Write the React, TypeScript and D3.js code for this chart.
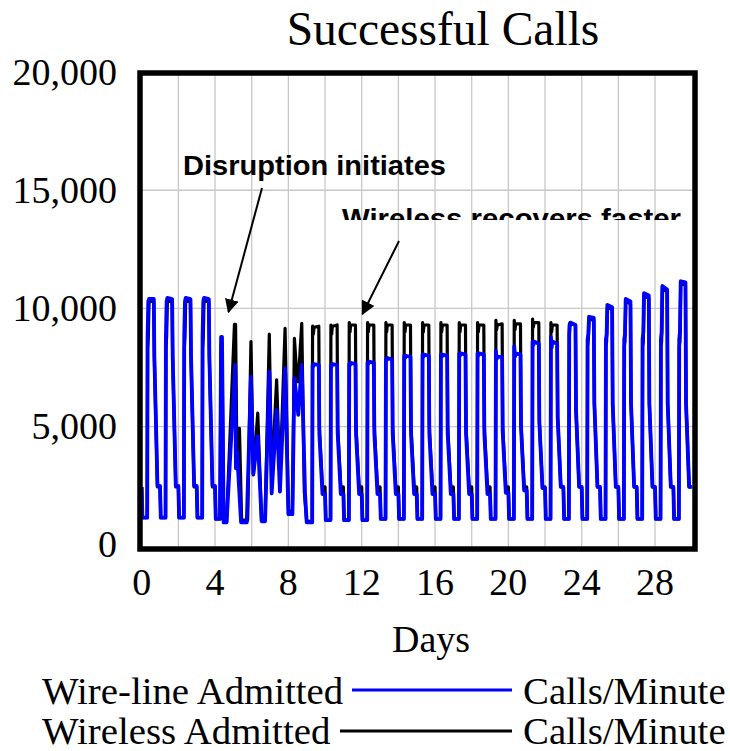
import React from 'react';
import * as d3 from 'd3';

const W = 730;
const H = 751;

const title = 'Successful Calls';
const xTicks = [0, 4, 8, 12, 16, 20, 24, 28];
const yTicks = [0, 5000, 10000, 15000, 20000];
const xGrid = [2, 4, 6, 8, 10, 12, 14, 16, 18, 20, 22, 24, 26, 28];
const yGrid = [5000, 10000, 15000];

// sample points inside one day (fraction of the day) used by the regular days
const keyTimes = [0, 0.04, 0.3, 0.32, 0.36, 0.4, 0.66, 0.69, 0.86];

// per day: [carry, low, low, shoulder, shoulder2, peak, peakEnd, mid, evening]
const wirelineDays: (number[] | null)[] = [
  [2450, 1150, 1150, 8800, 10300, 10400, 10400, 8000, 2500],
  [2500, 1150, 1150, 8800, 10300, 10450, 10400, 8000, 2500],
  [2500, 1150, 1150, 8800, 10300, 10450, 10400, 8000, 2500],
  [2500, 1150, 1150, 8800, 10300, 10450, 10400, 8000, 2500],
  null, null, null, null, null,
  [950, 950, 950, 7600, 7550, 7650, 7600, 4700, 2150],
  [2150, 1050, 1050, 7600, 7550, 7650, 7600, 4700, 2150],
  [2150, 1050, 1050, 7650, 7600, 7700, 7650, 4700, 2150],
  [2150, 1050, 1050, 7700, 7650, 7750, 7700, 4700, 2150],
  [2150, 1100, 1100, 7850, 7800, 7900, 7850, 4700, 2150],
  [2150, 1100, 1100, 8000, 7900, 8000, 7950, 4700, 2150],
  [2150, 1100, 1100, 8050, 7950, 8050, 8000, 4700, 2150],
  [2150, 1100, 1100, 8050, 7950, 8050, 8000, 4700, 2150],
  [2150, 1100, 1100, 8100, 8000, 8100, 8050, 4700, 2150],
  [2150, 1100, 1100, 8100, 8000, 8100, 8050, 4700, 2150],
  [2150, 1100, 1100, 8200, 7850, 7950, 7950, 4800, 2200],
  [2200, 1100, 1100, 8400, 7950, 8100, 8050, 5000, 2300],
  [2300, 1100, 1100, 8600, 8450, 8600, 8500, 5200, 2400],
  [2400, 1100, 1100, 8800, 8350, 8600, 8500, 5400, 2450],
  [2450, 1100, 1100, 8900, 9300, 9400, 9300, 5700, 2450],
  [2450, 1100, 1100, 8700, 8900, 9650, 9600, 6000, 2450],
  [2450, 1100, 1100, 8700, 8900, 10150, 10050, 6000, 2450],
  [2450, 1100, 1100, 8700, 8900, 10400, 10300, 6000, 2450],
  [2450, 1100, 1100, 8700, 9000, 10650, 10550, 6000, 2450],
  [2450, 1100, 1100, 8700, 9000, 10950, 10800, 6000, 2450],
  [2450, 1100, 1100, 8700, 9000, 11150, 11100, 6000, 2450],
];

const wirelessDays: (number[] | null)[] = [
  [2450, 1150, 1150, 8300, 8800, 10300, 10300, 7900, 2450],
  [2450, 1150, 1150, 8300, 8800, 10350, 10300, 7900, 2450],
  [2450, 1150, 1150, 8300, 8800, 10350, 10300, 7900, 2450],
  [2450, 1150, 1150, 8300, 8800, 10350, 10300, 7900, 2450],
  null, null, null, null, null,
  [1000, 1000, 1000, 9250, 8900, 9200, 9250, 5000, 2450],
  [2450, 1050, 1050, 9300, 8900, 9250, 9300, 5000, 2450],
  [2450, 1050, 1050, 9400, 9000, 9300, 9300, 5000, 2450],
  [2450, 1050, 1050, 9400, 9000, 9300, 9300, 5000, 2450],
  [2450, 1100, 1100, 9400, 9000, 9300, 9300, 5000, 2450],
  [2450, 1100, 1100, 9400, 9000, 9300, 9300, 5000, 2450],
  [2450, 1100, 1100, 9400, 9000, 9300, 9300, 5000, 2450],
  [2450, 1100, 1100, 9400, 9000, 9300, 9300, 5000, 2450],
  [2450, 1100, 1100, 9400, 9000, 9300, 9300, 5000, 2450],
  [2450, 1100, 1100, 9400, 9000, 9300, 9300, 5000, 2450],
  [2450, 1100, 1100, 9500, 9100, 9300, 9350, 5000, 2450],
  [2450, 1100, 1100, 9500, 9100, 9350, 9350, 5100, 2450],
  [2450, 1100, 1100, 9550, 9200, 9400, 9400, 5200, 2450],
  [2450, 1100, 1100, 9400, 9000, 9300, 9300, 5400, 2450],
  [2450, 1100, 1100, 9300, 9400, 9350, 9300, 5700, 2450],
  [2450, 1100, 1100, 8400, 8700, 9550, 9500, 6000, 2450],
  [2450, 1100, 1100, 8400, 8600, 10050, 9950, 6000, 2450],
  [2450, 1100, 1100, 8400, 8600, 10300, 10200, 6000, 2450],
  [2450, 1100, 1100, 8400, 8600, 10550, 10450, 6000, 2450],
  [2450, 1100, 1100, 8400, 8600, 10850, 10700, 6000, 2450],
  [2450, 1100, 1100, 8400, 8600, 11050, 11000, 6000, 2450],
];

// days 4 - 9, read point by point: [day, calls/minute]
const wirelineDisruption: [number, number][] = [
  [4.0, 2500], [4.04, 1100], [4.27, 1100], [4.33, 8800], [4.38, 8800], [4.47, 950],
  [4.63, 950], [5.1, 7610], [5.14, 3240], [5.2, 3950], [5.42, 950], [5.73, 950],
  [5.96, 7120], [6.09, 3000], [6.33, 4600], [6.54, 1000], [6.73, 1000], [6.96, 7330],
  [7.09, 2180], [7.36, 5700], [7.54, 2250], [7.82, 7470], [8.0, 1300], [8.22, 1300],
  [8.33, 7050], [8.54, 5500], [8.73, 7610], [8.91, 2180], [9.0, 950],
];

const wirelessDisruption: [number, number][] = [
  [4.0, 2450], [4.04, 1100], [4.27, 1100], [4.33, 8500], [4.38, 8500], [4.47, 1000],
  [4.63, 1000], [5.06, 9330], [5.12, 9330], [5.19, 3950], [5.33, 4930], [5.45, 1050],
  [5.78, 1050], [5.96, 8600], [6.09, 2960], [6.33, 5570], [6.54, 1050], [6.73, 1050],
  [6.96, 8910], [7.09, 2670], [7.36, 6980], [7.54, 2700], [7.82, 9160], [8.0, 1500],
  [8.22, 1300], [8.33, 8740], [8.48, 6900], [8.54, 6900], [8.73, 9370], [8.87, 2250],
  [9.0, 1000],
];

const buildSeries = (rows: (number[] | null)[], disruption: [number, number][]) => {
  const pts: [number, number][] = [];
  rows.forEach((row, d) => {
    if (row) row.forEach((v, i) => pts.push([d + keyTimes[i], v]));
    else if (d === 4) disruption.forEach(p => pts.push(p));
  });
  const last = rows[rows.length - 1] as number[];
  pts.push([rows.length, last[last.length - 1]]);
  return pts;
};

const wireline = buildSeries(wirelineDays, wirelineDisruption);
const wireless = buildSeries(wirelessDays, wirelessDisruption);

const serif = '"Liberation Serif", "Times New Roman", serif';
const sans = '"Liberation Sans", Arial, sans-serif';

const App = () => {
  const x = d3.scaleLinear().domain([0, 30]).range([141.7, 691.7]);
  const y = d3.scaleLinear().domain([0, 20000]).range([544.9, 72]);
  const line = d3.line<[number, number]>()
    .x(d => x(d[0]))
    .y(d => y(d[1]));
  const fmt = d3.format(',');

  return (
    <div style={{ position: 'fixed', left: 0, top: 0, background: '#fff' }}>
      <svg width={W} height={H} style={{ display: 'block' }}>
        <defs>
          <clipPath id="annoClip">
            <rect x={0} y={0} width={W} height={220} />
          </clipPath>
          <marker id="arrow" viewBox="0 0 10 10" refX="9" refY="5" markerWidth="7" markerHeight="7" orient="auto">
            <path d="M0,0 L10,5 L0,10 z" fill="#000" />
          </marker>
        </defs>
        <rect width={W} height={H} fill="#fff" />

        <text x={443} y={45} textAnchor="middle" fontFamily={serif} fontSize={47.5}>{title}</text>

        {xGrid.map(d => (
          <line key={'gx' + d} x1={x(d)} x2={x(d)} y1={73} y2={549} stroke="#c8c8c8" strokeWidth={1.3} />
        ))}
        {yGrid.map(v => (
          <line key={'gy' + v} x1={140} x2={695} y1={y(v)} y2={y(v)} stroke="#c8c8c8" strokeWidth={1.3} />
        ))}

        <path d={line(wireless) || ''} fill="none" stroke="#000" strokeWidth={3.2} strokeLinejoin="round" />
        <path d={line(wireline) || ''} fill="none" stroke="#0000ff" strokeWidth={3.8} strokeLinejoin="round" />

        <rect x={140} y={73} width={555} height={476} fill="none" stroke="#000" strokeWidth={5.5} />

        {yTicks.map(v => (
          <text key={'yt' + v} x={117} y={y(v) + 12.5} textAnchor="end" fontFamily={serif} fontSize={38}>{fmt(v)}</text>
        ))}
        {xTicks.map(d => (
          <text key={'xt' + d} x={x(d)} y={595} textAnchor="middle" fontFamily={serif} fontSize={38}>{d}</text>
        ))}
        <text x={431} y={652} textAnchor="middle" fontFamily={serif} fontSize={38}>Days</text>

        <text x={183} y={175} fontFamily={sans} fontWeight="bold" fontSize={28.5} textLength={263} lengthAdjust="spacingAndGlyphs">Disruption initiates</text>
        <line x1={262} y1={188} x2={228.5} y2={312} stroke="#000" strokeWidth={2} markerEnd="url(#arrow)" />
        <g clipPath="url(#annoClip)">
          <text x={342} y={228} fontFamily={sans} fontWeight="bold" fontSize={28.5} textLength={339} lengthAdjust="spacingAndGlyphs">Wireless recovers faster</text>
        </g>
        <line x1={399} y1={241} x2={362.5} y2={314} stroke="#000" strokeWidth={2} markerEnd="url(#arrow)" />

        <text x={42} y={704} fontFamily={serif} fontSize={38.8}>Wire-line Admitted</text>
        <line x1={352} x2={512} y1={690} y2={690} stroke="#0000ff" strokeWidth={3} />
        <text x={523} y={704} fontFamily={serif} fontSize={38.8}>Calls/Minute</text>
        <text x={42} y={744} fontFamily={serif} fontSize={38.8}>Wireless Admitted</text>
        <line x1={340} x2={512} y1={731} y2={731} stroke="#000" strokeWidth={3} />
        <text x={523} y={744} fontFamily={serif} fontSize={38.8}>Calls/Minute</text>
      </svg>
    </div>
  );
};

export default App;
